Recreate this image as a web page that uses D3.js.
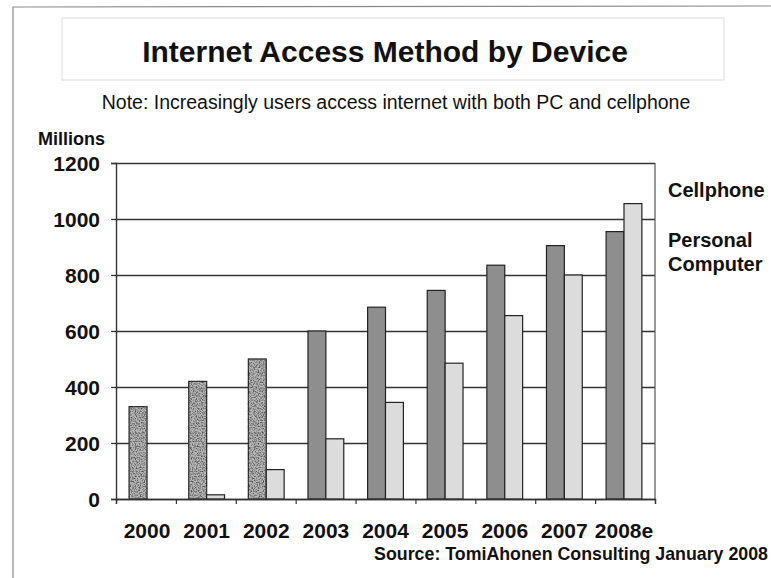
<!DOCTYPE html>
<html>
<head>
<meta charset="utf-8">
<script src="https://cdn.jsdelivr.net/npm/d3@7"></script>
<style>
  body { margin: 0; background: #fff; }
  svg { display: block; font-family: "Liberation Sans", Arial, Helvetica, sans-serif; }
</style>
</head>
<body>
<svg id="chart" width="771" height="578"></svg>
<script>
// Internet users by access device, millions
const years = ["2000", "2001", "2002", "2003", "2004", "2005", "2006", "2007", "2008e"];
const pcUsers = [330, 420, 500, 600, 685, 745, 835, 905, 955];
const cellUsers = [0, 15, 105, 215, 345, 485, 655, 800, 1055];
const yTicks = [0, 200, 400, 600, 800, 1000, 1200];
const seriesKeys = ["pc", "cell"];

const svg = d3.select("#chart");

// plot area
const plotLeft = 116, plotRight = 655, plotTop = 163, plotBottom = 499;

// speckled print texture used on the early PC bars
const defs = svg.append("defs");
const f = defs.append("filter").attr("id", "stipple")
  .attr("color-interpolation-filters", "sRGB");
f.append("feTurbulence").attr("type", "fractalNoise").attr("baseFrequency", 0.8)
  .attr("numOctaves", 2).attr("seed", 7).attr("result", "noise");
f.append("feColorMatrix").attr("in", "noise").attr("type", "matrix")
  .attr("values", "0 0 0 0 0.3  0 0 0 0 0.3  0 0 0 0 0.3  2.6 0 0 0 -1.05")
  .attr("result", "dots");
f.append("feComposite").attr("in", "dots").attr("in2", "SourceAlpha")
  .attr("operator", "in").attr("result", "clipped");
const merge = f.append("feMerge");
merge.append("feMergeNode").attr("in", "SourceGraphic");
merge.append("feMergeNode").attr("in", "clipped");

// page frame
svg.append("path")
  .attr("d", "M13,578 L13,7 L771,6")
  .attr("fill", "none").attr("stroke", "#888").attr("stroke-width", 1.2);

// title box
svg.append("rect")
  .attr("x", 62).attr("y", 18).attr("width", 662).attr("height", 62)
  .attr("fill", "none").attr("stroke", "#e2e2e2").attr("stroke-width", 1.2);

svg.append("text")
  .attr("x", 385).attr("y", 62).attr("text-anchor", "middle")
  .attr("font-size", 30).attr("font-weight", "bold").attr("fill", "#111")
  .text("Internet Access Method by Device");

svg.append("text")
  .attr("x", 396).attr("y", 109).attr("text-anchor", "middle")
  .attr("font-size", 19.5).attr("fill", "#111")
  .text("Note: Increasingly users access internet with both PC and cellphone");

svg.append("text")
  .attr("x", 38).attr("y", 145)
  .attr("font-size", 18).attr("font-weight", "bold").attr("fill", "#111")
  .text("Millions");

// scales
const y = d3.scaleLinear().domain([0, 1200]).range([plotBottom, plotTop]);
const x0 = d3.scaleBand().domain(years).range([plotLeft, plotRight])
  .paddingInner(0.4).paddingOuter(0.22);
const x1 = d3.scaleBand().domain(seriesKeys).range([0, x0.bandwidth()]);
const slot = d3.scaleLinear().domain([0, years.length]).range([plotLeft, plotRight]);

// horizontal gridlines
svg.append("g")
  .attr("transform", `translate(${plotLeft},0)`)
  .call(d3.axisLeft(y).tickValues(yTicks).tickSize(-(plotRight - plotLeft)).tickFormat(""))
  .call(g => g.select(".domain").remove())
  .call(g => g.selectAll("line").attr("stroke", "#333").attr("stroke-width", 1.3));

// right border of plot
svg.append("line")
  .attr("x1", plotRight).attr("x2", plotRight).attr("y1", plotTop).attr("y2", plotBottom)
  .attr("stroke", "#555").attr("stroke-width", 1.2);

// bars
const rows = years.map((yr, i) => ({ year: yr, i, pc: pcUsers[i], cell: cellUsers[i] }));
const groups = svg.append("g").selectAll("g")
  .data(rows).join("g")
  .attr("transform", d => `translate(${x0(d.year)},0)`);

groups.selectAll("rect")
  .data(d => seriesKeys.map(k => ({ key: k, value: d[k], i: d.i })))
  .join("rect")
  .attr("x", d => x1(d.key))
  .attr("width", x1.bandwidth())
  .attr("y", d => y(d.value))
  .attr("height", d => y(0) - y(d.value))
  .attr("fill", d => d.key === "cell" ? "#dcdcdc" : (d.i < 3 ? "#b8b8b8" : "#8e8e8e"))
  .attr("stroke", "#222")
  .attr("stroke-width", 1.2)
  .attr("filter", d => d.key === "pc" && d.i < 3 ? "url(#stipple)" : null);

// y axis
svg.append("g")
  .attr("transform", `translate(${plotLeft},0)`)
  .call(d3.axisLeft(y).tickValues(yTicks).tickSize(5).tickPadding(11).tickFormat(d3.format("d")))
  .call(g => g.select(".domain").attr("stroke", "#333").attr("stroke-width", 1.4))
  .call(g => g.selectAll("line").attr("stroke", "#333").attr("stroke-width", 1.3))
  .call(g => g.selectAll("text")
    .attr("font-family", "'Liberation Sans', Arial, sans-serif")
    .attr("font-size", 21).attr("font-weight", "bold").attr("fill", "#111")
    .attr("dy", "0.36em"));

// x axis: slot ticks and year labels
svg.append("g")
  .attr("transform", `translate(0,${plotBottom})`)
  .call(d3.axisBottom(slot).ticks(years.length).tickSize(5).tickFormat(""))
  .call(g => g.select(".domain").attr("stroke", "#333").attr("stroke-width", 1.4))
  .call(g => g.selectAll("line").attr("stroke", "#333").attr("stroke-width", 1.2));

svg.append("g")
  .attr("transform", `translate(0,${plotBottom})`)
  .call(d3.axisBottom(x0).tickSize(0).tickPadding(24))
  .call(g => g.select(".domain").remove())
  .call(g => g.selectAll("text")
    .attr("font-family", "'Liberation Sans', Arial, sans-serif")
    .attr("font-size", 21).attr("font-weight", "bold").attr("fill", "#111"));

// series labels
const labelStyle = s => s.attr("font-size", 20).attr("font-weight", "bold").attr("fill", "#111");
svg.append("text").attr("x", 668).attr("y", 197).call(labelStyle).text("Cellphone");
svg.append("text").attr("x", 668).attr("y", 247).call(labelStyle).text("Personal");
svg.append("text").attr("x", 668).attr("y", 271).call(labelStyle).text("Computer");

// source note
svg.append("text")
  .attr("x", 768).attr("y", 560).attr("text-anchor", "end")
  .attr("font-size", 17.8).attr("font-weight", "bold").attr("fill", "#111")
  .text("Source: TomiAhonen Consulting January 2008");
</script>
</body>
</html>
